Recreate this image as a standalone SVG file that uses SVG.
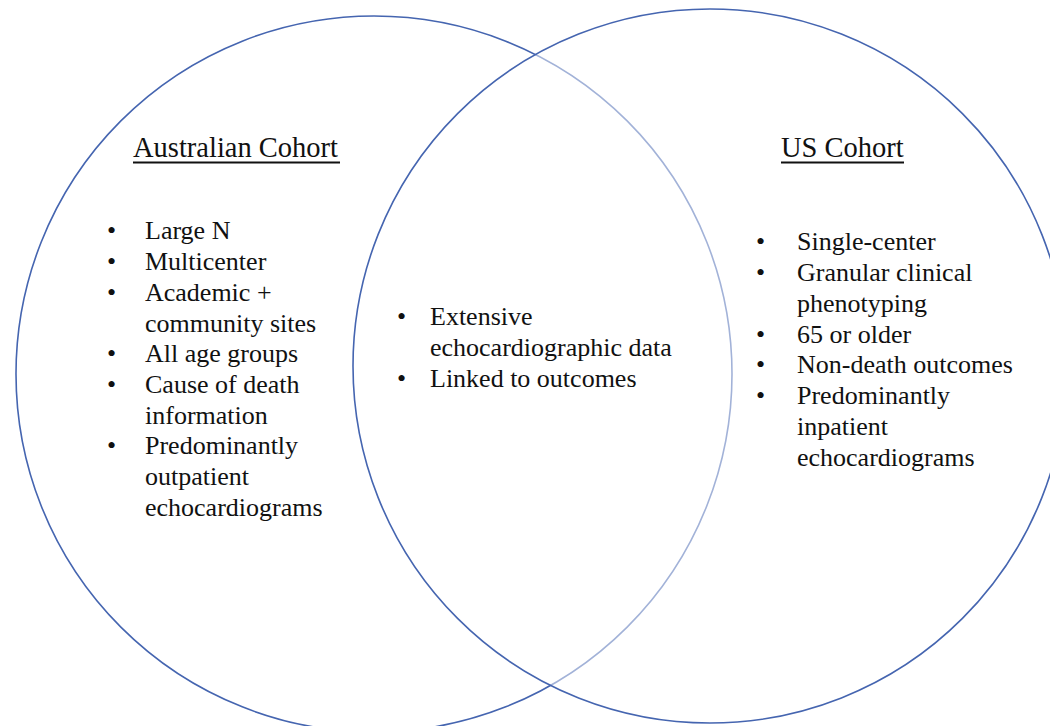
<svg xmlns="http://www.w3.org/2000/svg" width="1050" height="726" viewBox="0 0 1050 726">
  <style>
    .ring { stroke: #4565B0; stroke-width: 1.6; }
    text { font-family: "Liberation Serif", "Times New Roman", serif; fill: #111; }
    .head { font-size: 28.5px; }
    .item { font-size: 26px; }
    .rule { stroke: #111; stroke-width: 1.8; }
  </style>
  <rect width="1050" height="726" fill="#ffffff"/>

  <!-- two overlapping sets; the right one carries a translucent white fill so the left arc fades inside the overlap -->
  <g id="circles">
    <circle id="set-australia" class="ring" cx="374" cy="374" r="358" fill="none"/>
    <circle id="set-us" class="ring" cx="710" cy="366" r="357" fill="#ffffff" fill-opacity="0.5"/>
  </g>

  <g id="australian-cohort">
    <text class="head" x="133" y="157">Australian Cohort</text>
    <line class="rule" x1="133" y1="162.5" x2="340" y2="162.5"/>
    <g class="item">
      <text x="107" y="239">•</text><text x="145" y="239">Large N</text>
      <text x="107" y="270">•</text><text x="145" y="270">Multicenter</text>
      <text x="107" y="301">•</text><text x="145" y="301">Academic +</text>
      <text x="145" y="332">community sites</text>
      <text x="107" y="362">•</text><text x="145" y="362">All age groups</text>
      <text x="107" y="393">•</text><text x="145" y="393">Cause of death</text>
      <text x="145" y="424">information</text>
      <text x="107" y="454">•</text><text x="145" y="454">Predominantly</text>
      <text x="145" y="485">outpatient</text>
      <text x="145" y="516">echocardiograms</text>
    </g>
  </g>

  <g id="shared">
    <g class="item">
      <text x="397" y="325">•</text><text x="430" y="325">Extensive</text>
      <text x="430" y="356">echocardiographic data</text>
      <text x="397" y="387">•</text><text x="430" y="387">Linked to outcomes</text>
    </g>
  </g>

  <g id="us-cohort">
    <text class="head" x="781" y="157">US Cohort</text>
    <line class="rule" x1="781" y1="162.5" x2="904" y2="162.5"/>
    <g class="item">
      <text x="756" y="250">•</text><text x="797" y="250">Single-center</text>
      <text x="756" y="281">•</text><text x="797" y="281">Granular clinical</text>
      <text x="797" y="312">phenotyping</text>
      <text x="756" y="343">•</text><text x="797" y="343">65 or older</text>
      <text x="756" y="373">•</text><text x="797" y="373">Non-death outcomes</text>
      <text x="756" y="404">•</text><text x="797" y="404">Predominantly</text>
      <text x="797" y="435">inpatient</text>
      <text x="797" y="466">echocardiograms</text>
    </g>
  </g>
</svg>
